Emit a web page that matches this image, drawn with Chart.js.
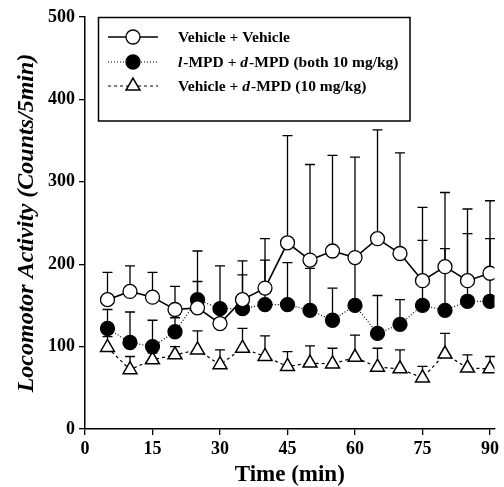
<!DOCTYPE html>
<html>
<head>
<meta charset="utf-8">
<script src="https://cdn.jsdelivr.net/npm/chart.js@4"></script>
<style>
  html, body { margin: 0; padding: 0; background: #fff; }
  #wrap { width: 504px; height: 487px; }
</style>
</head>
<body>
<div id="wrap"><canvas id="activityChart" width="504" height="487"></canvas></div>
<script>
// time points (min)
const times = [5, 10, 15, 20, 25, 30, 35, 40, 45, 50, 55, 60, 65, 70, 75, 80, 85, 90];
const xTicks = [0, 15, 30, 45, 60, 75, 90];

// Vehicle + Vehicle (mean and mean+SEM)
const vehVeh    = [157, 167, 160, 145, 147, 128, 157, 171, 226, 205, 216, 208, 231, 213, 180, 197, 180, 189];
const vehVehTop = [190, 198, 190, 173, 216, 198, 204, 231, 356, 321, 332, 330, 363, 335, 269, 287, 267, 277];

// l-MPD + d-MPD (both 10 mg/kg)
const lmpd    = [122, 105, 100, 118, 157, 146, 146, 151, 151, 144, 132, 150, 116, 127, 150, 144, 155, 155];
const lmpdTop = [145, 142, 132, 135, 179, 152, 187, 205, 202, 195, 171, 205, 162, 157, 229, 219, 237, 231];

// Vehicle + d-MPD (10 mg/kg)
const vehD    = [99, 72, 84, 90, 96, 78, 98, 88, 76, 80, 79, 87, 75, 73, 62, 91, 74, 73];
const vehDTop = [112, 88, 92, 100, 119, 96, 122, 113, 94, 101, 98, 114, 98, 96, 76, 116, 90, 88];

const serif = "'Liberation Serif', 'Times New Roman', serif";

function toPoints(values) {
    return times.map((t, i) => ({ x: t, y: values[i] }));
}

// upward error bars, drawn under the lines and markers
const errorBars = {
    id: 'errorBars',
    beforeDatasetsDraw(chart) {
        const ctx = chart.ctx;
        const xs = chart.scales.x;
        const ys = chart.scales.y;
        ctx.save();
        ctx.strokeStyle = '#000';
        ctx.lineWidth = 1.3;
        chart.data.datasets.forEach(ds => {
            ds.upper.forEach((top, i) => {
                const px = xs.getPixelForValue(times[i]);
                const py = ys.getPixelForValue(ds.data[i].y);
                const pt = ys.getPixelForValue(top);
                ctx.beginPath();
                ctx.moveTo(px, py);
                ctx.lineTo(px, pt);
                ctx.moveTo(px - 5, pt);
                ctx.lineTo(px + 5, pt);
                ctx.stroke();
            });
        });
        ctx.restore();
    }
};

// boxed legend in the upper left of the plot
const boxLegend = {
    id: 'boxLegend',
    afterDraw(chart) {
        const ctx = chart.ctx;
        const left = 98.5, top = 17.5, right = 410, bottom = 121;
        const rows = [37, 62, 86];
        ctx.save();
        ctx.strokeStyle = '#000';
        ctx.lineWidth = 1.5;
        ctx.strokeRect(left, top, right - left, bottom - top);

        chart.data.datasets.forEach((ds, i) => {
            const y = rows[i];
            ctx.strokeStyle = '#000';
            ctx.lineWidth = ds.borderWidth;
            ctx.setLineDash(ds.borderDash || []);
            ctx.beginPath();
            ctx.moveTo(108, y);
            ctx.lineTo(158, y);
            ctx.stroke();
            ctx.setLineDash([]);
            ctx.fillStyle = ds.pointBackgroundColor;
            ctx.lineWidth = ds.pointBorderWidth;
            Chart.helpers.drawPoint(ctx, {
                pointStyle: ds.pointStyle,
                radius: ds.pointRadius,
                borderWidth: ds.pointBorderWidth,
                rotation: 0
            }, 133, y);
        });

        // label text, with italic prefixes where the original has them
        ctx.fillStyle = '#000';
        ctx.textBaseline = 'middle';
        const parts = [
            [['Vehicle + Vehicle', false]],
            [['l', true], ['-MPD + ', false], ['d', true], ['-MPD (both 10 mg/kg)', false]],
            [['Vehicle + ', false], ['d', true], ['-MPD (10 mg/kg)', false]]
        ];
        parts.forEach((segs, i) => {
            let x = 178;
            segs.forEach(([txt, it]) => {
                ctx.font = (it ? 'italic ' : '') + 'bold 15.5px ' + serif;
                ctx.fillText(txt, x, rows[i] + 1);
                x += ctx.measureText(txt).width + (it ? 1 : 0);
            });
        });
        ctx.restore();
    }
};

const ctx = document.getElementById('activityChart').getContext('2d');
new Chart(ctx, {
    type: 'line',
    data: {
        datasets: [{
            label: 'Vehicle + Vehicle',
            data: toPoints(vehVeh),
            upper: vehVehTop,
            borderColor: '#000',
            borderWidth: 1.6,
            pointStyle: 'circle',
            pointRadius: 7,
            pointBorderWidth: 1.3,
            pointBorderColor: '#000',
            pointBackgroundColor: '#fff',
            tension: 0
        }, {
            label: 'l-MPD + d-MPD (both 10 mg/kg)',
            data: toPoints(lmpd),
            upper: lmpdTop,
            borderColor: '#000',
            borderWidth: 1.2,
            borderDash: [1, 2],
            pointStyle: 'circle',
            pointRadius: 7,
            pointBorderWidth: 1.3,
            pointBorderColor: '#000',
            pointBackgroundColor: '#000',
            tension: 0
        }, {
            label: 'Vehicle + d-MPD (10 mg/kg)',
            data: toPoints(vehD),
            upper: vehDTop,
            borderColor: '#000',
            borderWidth: 1.2,
            borderDash: [3, 3],
            pointStyle: 'triangle',
            pointRadius: 8,
            pointBorderWidth: 1.5,
            pointBorderColor: '#000',
            pointBackgroundColor: '#fff',
            tension: 0
        }]
    },
    options: {
        responsive: false,
        animation: false,
        layout: { padding: { top: 17, right: 5, left: 0, bottom: 0 } },
        plugins: {
            legend: { display: false },
            tooltip: { enabled: false }
        },
        scales: {
            x: {
                type: 'linear',
                min: 0,
                max: 91,
                afterBuildTicks: scale => { scale.ticks = xTicks.map(v => ({ value: v })); },
                afterFit: scale => { scale.height = 58; },
                grid: { drawOnChartArea: false, color: '#000', tickLength: 6, lineWidth: 1.3 },
                border: { color: '#000', width: 1.5 },
                ticks: {
                    color: '#000',
                    padding: 4,
                    maxRotation: 0,
                    font: { family: serif, size: 18, weight: 'bold' }
                },
                title: {
                    display: true,
                    text: 'Time (min)',
                    color: '#000',
                    padding: { top: 0, bottom: 0 },
                    font: { family: serif, size: 23, weight: 'bold', lineHeight: 1 }
                }
            },
            y: {
                min: 0,
                max: 500,
                afterFit: scale => { scale.width = 85; },
                grid: { drawOnChartArea: false, color: '#000', tickLength: 6, lineWidth: 1.3 },
                border: { color: '#000', width: 1.5 },
                ticks: {
                    stepSize: 100,
                    color: '#000',
                    padding: 4,
                    font: { family: serif, size: 18, weight: 'bold' }
                },
                title: {
                    display: true,
                    text: 'Locomotor Activity (Counts/5min)',
                    color: '#000',
                    padding: { top: 15, bottom: 0 },
                    font: { family: serif, size: 24, style: 'italic', weight: 'bold', lineHeight: 1 }
                }
            }
        }
    },
    plugins: [errorBars, boxLegend]
});
</script>
</body>
</html>
